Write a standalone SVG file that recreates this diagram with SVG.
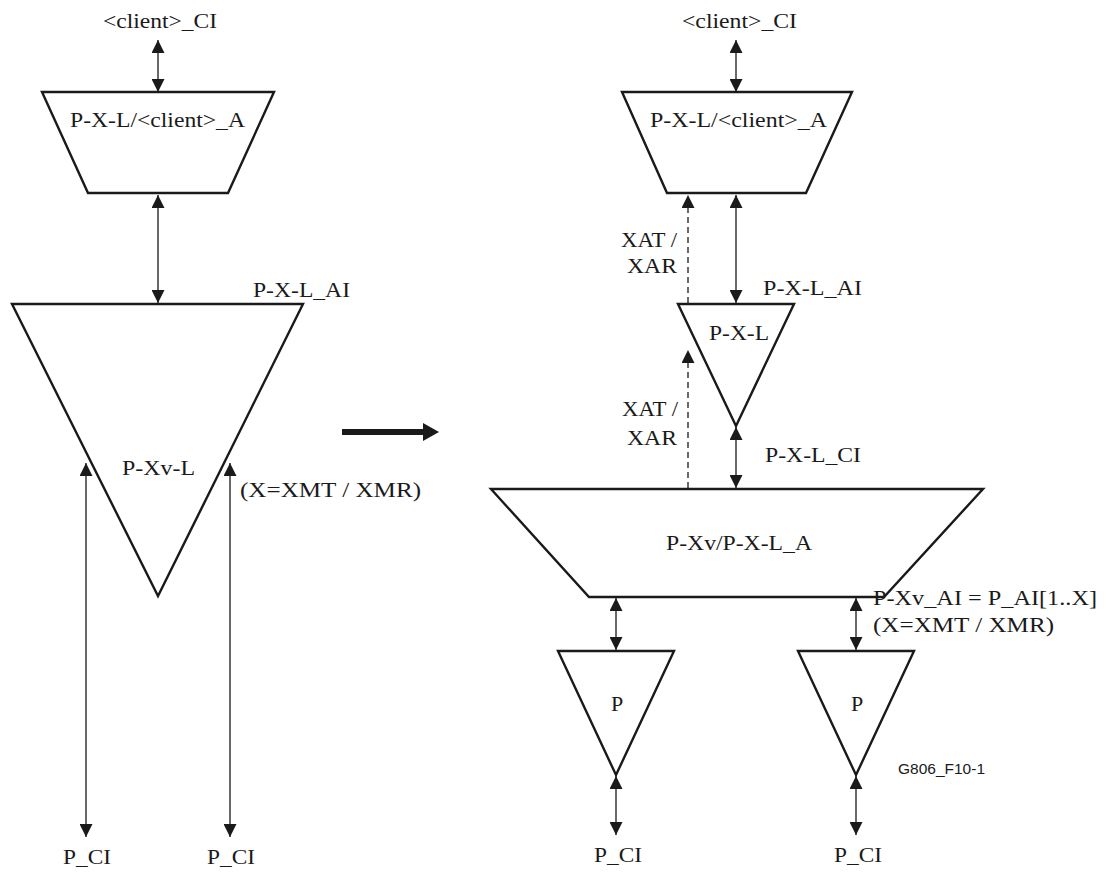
<svg xmlns="http://www.w3.org/2000/svg" width="1106" height="872" viewBox="0 0 1106 872">
<style>
.shape{fill:#fff;stroke:#1a1a1a;stroke-width:2.4;stroke-linejoin:miter}
.t{font-family:"Liberation Serif","Times New Roman",serif;font-size:22px;fill:#1a1a1a}
.s{font-family:"Liberation Sans",Arial,sans-serif;font-size:14px;fill:#1a1a1a}
.c{stroke:#1a1a1a;stroke-width:1.3;fill:none}
.d{stroke:#1a1a1a;stroke-width:1.3;fill:none;stroke-dasharray:6 4}
.both{marker-start:url(#ah);marker-end:url(#ah)}
.end{marker-end:url(#ah)}
</style>
<defs>
<marker id="ah" viewBox="0 0 13 13" refX="13" refY="6.5" markerWidth="13" markerHeight="13" markerUnits="userSpaceOnUse" orient="auto-start-reverse">
<path d="M0,0 L13,6.5 L0,13 z" fill="#1a1a1a"/>
</marker>
</defs>
<rect width="1106" height="872" fill="#fff"/>

<g id="connectors">
<line class="c both" x1="158" y1="40" x2="158" y2="92"/>
<line class="c both" x1="158" y1="195" x2="158" y2="303"/>
<line class="c both" x1="86" y1="463" x2="86" y2="837"/>
<line class="c both" x1="230" y1="463" x2="230" y2="837"/>
<line class="c both" x1="736" y1="40" x2="736" y2="92"/>
<line class="c both" x1="736" y1="195" x2="736" y2="303"/>
<line class="d end" x1="688" y1="303" x2="688" y2="195"/>
<line class="d end" x1="688" y1="488" x2="688" y2="350"/>
<line class="c both" x1="736" y1="427" x2="736" y2="488"/>
<line class="c both" x1="616" y1="598" x2="616" y2="650"/>
<line class="c both" x1="856" y1="598" x2="856" y2="650"/>
<line class="c both" x1="616" y1="776" x2="616" y2="835"/>
<line class="c both" x1="856" y1="776" x2="856" y2="835"/>
<g id="transform-arrow">
<line x1="342" y1="432" x2="426" y2="432" stroke="#1a1a1a" stroke-width="6"/>
<path d="M423,423 L439,432 L423,441 z" fill="#1a1a1a"/>
</g>
</g>

<g id="left-adapt">
<polygon class="shape" points="42,92 274,92 228,193 88,193"/>
<text class="t" x="70" y="127" textLength="175" lengthAdjust="spacingAndGlyphs">P-X-L/&lt;client&gt;_A</text>
</g>
<g id="left-pxvl">
<polygon class="shape" points="12,304 303,304 158,596"/>
<text class="t" x="122" y="475" textLength="73" lengthAdjust="spacingAndGlyphs">P-Xv-L</text>
</g>

<g id="right-adapt">
<polygon class="shape" points="622,92 852,92 806,193 667,193"/>
<text class="t" x="650" y="127" textLength="177" lengthAdjust="spacingAndGlyphs">P-X-L/&lt;client&gt;_A</text>
</g>
<g id="right-pxl">
<polygon class="shape" points="678,304 794,304 736,426"/>
<text class="t" x="709" y="340" textLength="60" lengthAdjust="spacingAndGlyphs">P-X-L</text>
</g>
<g id="right-pxv-adapt">
<polygon class="shape" points="491,489 983,489 884,597 589,597"/>
<text class="t" x="666" y="550" textLength="146" lengthAdjust="spacingAndGlyphs">P-Xv/P-X-L_A</text>
</g>
<g id="right-p1">
<polygon class="shape" points="558,651 674,651 616,775"/>
<text class="t" x="617" y="711" text-anchor="middle">P</text>
</g>
<g id="right-p2">
<polygon class="shape" points="798,651 914,651 856,775"/>
<text class="t" x="857" y="711" text-anchor="middle">P</text>
</g>

<g id="labels">
<text class="t" x="103" y="28" textLength="114" lengthAdjust="spacingAndGlyphs">&lt;client&gt;_CI</text>
<text class="t" x="253" y="297" textLength="97" lengthAdjust="spacingAndGlyphs">P-X-L_AI</text>
<text class="t" x="240" y="497" textLength="181" lengthAdjust="spacingAndGlyphs">(X=XMT / XMR)</text>
<text class="t" x="63" y="864" textLength="48" lengthAdjust="spacingAndGlyphs">P_CI</text>
<text class="t" x="207" y="864" textLength="48" lengthAdjust="spacingAndGlyphs">P_CI</text>

<text class="t" x="682" y="28" textLength="115" lengthAdjust="spacingAndGlyphs">&lt;client&gt;_CI</text>
<text class="t" x="677" y="247" text-anchor="end" textLength="56" lengthAdjust="spacingAndGlyphs">XAT /</text>
<text class="t" x="677" y="273" text-anchor="end" textLength="50" lengthAdjust="spacingAndGlyphs">XAR</text>
<text class="t" x="763" y="295" textLength="99" lengthAdjust="spacingAndGlyphs">P-X-L_AI</text>
<text class="t" x="678" y="416" text-anchor="end" textLength="56" lengthAdjust="spacingAndGlyphs">XAT /</text>
<text class="t" x="677" y="445" text-anchor="end" textLength="50" lengthAdjust="spacingAndGlyphs">XAR</text>
<text class="t" x="765" y="462" textLength="96" lengthAdjust="spacingAndGlyphs">P-X-L_CI</text>
<text class="t" x="873" y="605" textLength="224" lengthAdjust="spacingAndGlyphs">P-Xv_AI = P_AI[1..X]</text>
<text class="t" x="873" y="632" textLength="181" lengthAdjust="spacingAndGlyphs">(X=XMT / XMR)</text>
<text class="t" x="594" y="862" textLength="48" lengthAdjust="spacingAndGlyphs">P_CI</text>
<text class="t" x="834" y="862" textLength="48" lengthAdjust="spacingAndGlyphs">P_CI</text>
<text class="s" x="898" y="774" textLength="87" lengthAdjust="spacingAndGlyphs">G806_F10-1</text>
</g>
</svg>
